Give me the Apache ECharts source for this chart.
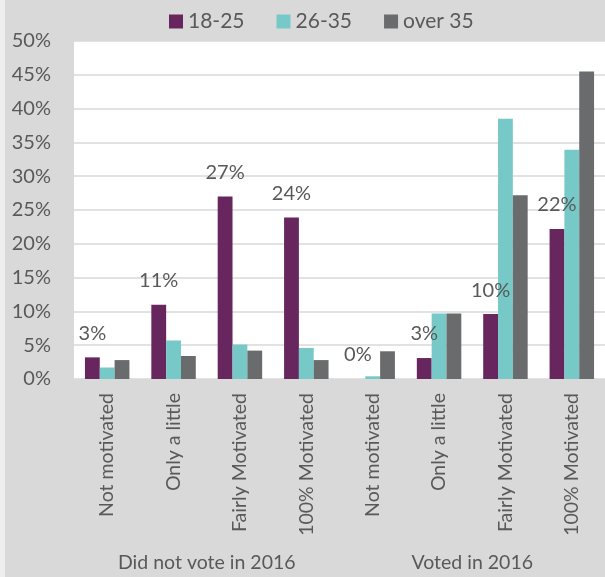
<!DOCTYPE html>
<html>
<head>
<meta charset="utf-8">
<script src="https://cdn.jsdelivr.net/npm/echarts@6/dist/echarts.min.js"></script>
<style>
  html, body { margin: 0; padding: 0; background: #d9d9d9; }
  #chart { width: 605px; height: 577px; }
</style>
</head>
<body>
<div id="chart"></div>
<script>
// Motivation level by age group, split by 2016 voting status
const categories = [
  'Not motivated', 'Only a little', 'Fairly Motivated', '100% Motivated',
  'Not motivated', 'Only a little', 'Fairly Motivated', '100% Motivated'
];
const groups = ['Did not vote in 2016', 'Voted in 2016'];
const seriesNames = ['18-25', '26-35', 'over 35'];
const age18to25 = [3.2, 11.0, 27.0, 23.9, 0, 3.1, 9.6, 22.2];
const age26to35 = [1.7, 5.7, 5.1, 4.6, 0.4, 9.7, 38.5, 33.9];
const over35 = [2.8, 3.4, 4.2, 2.8, 4.1, 9.7, 27.2, 45.5];
const yTicks = { min: 0, max: 50, interval: 5 };

const colors = ['#68265f', '#76c9c7', '#6a6b6d'];
const textColor = '#595959';
const fontFamily = 'Lato, "Open Sans", sans-serif';

const chart = echarts.init(document.getElementById('chart'), null, { renderer: 'canvas' });

const makeSeries = (name, data, color, withLabel) => ({
  name,
  type: 'bar',
  data,
  barGap: '0%',
  barCategoryGap: '33%',
  itemStyle: { color },
  label: {
    show: withLabel,
    position: 'top',
    distance: 14,
    color: textColor,
    fontSize: 20,
    fontFamily,
    formatter: p => Math.round(p.value) + '%'
  }
});

chart.setOption({
  backgroundColor: '#d9d9d9',
  animation: false,
  color: colors,
  graphic: [
    {
      type: 'rect',
      left: 0,
      top: 0,
      shape: { width: 5, height: 577 },
      style: { fill: '#eeeeee' },
      silent: true
    }
  ],
  legend: {
    top: 6,
    left: 164,
    icon: 'rect',
    itemWidth: 14,
    itemHeight: 14,
    itemGap: 32,
    textStyle: { color: textColor, fontSize: 21, fontFamily },
    data: seriesNames
  },
  grid: {
    left: 74,
    top: 41,
    width: 537,
    height: 338,
    show: true,
    backgroundColor: '#ffffff',
    borderWidth: 0,
    containLabel: false
  },
  xAxis: [
    {
      type: 'category',
      data: categories,
      axisLine: { show: false },
      axisTick: { show: false },
      axisLabel: {
        rotate: 90,
        interval: 0,
        margin: 14,
        color: textColor,
        fontSize: 19.5,
        fontFamily
      }
    },
    {
      type: 'category',
      position: 'bottom',
      data: groups,
      axisLine: { show: false },
      axisTick: { show: false },
      axisLabel: {
        interval: 0,
        margin: 174,
        color: textColor,
        fontSize: 19.5,
        fontFamily
      }
    }
  ],
  yAxis: {
    type: 'value',
    min: yTicks.min,
    max: yTicks.max,
    interval: yTicks.interval,
    axisLine: { show: false },
    axisTick: { show: false },
    axisLabel: {
      formatter: '{value}%',
      margin: 23,
      color: textColor,
      fontSize: 20,
      fontFamily
    },
    splitLine: { lineStyle: { color: '#d9d9d9', width: 1.5 } }
  },
  series: [
    makeSeries(seriesNames[0], age18to25, colors[0], true),
    makeSeries(seriesNames[1], age26to35, colors[1], false),
    makeSeries(seriesNames[2], over35, colors[2], false)
  ]
});
</script>
</body>
</html>
